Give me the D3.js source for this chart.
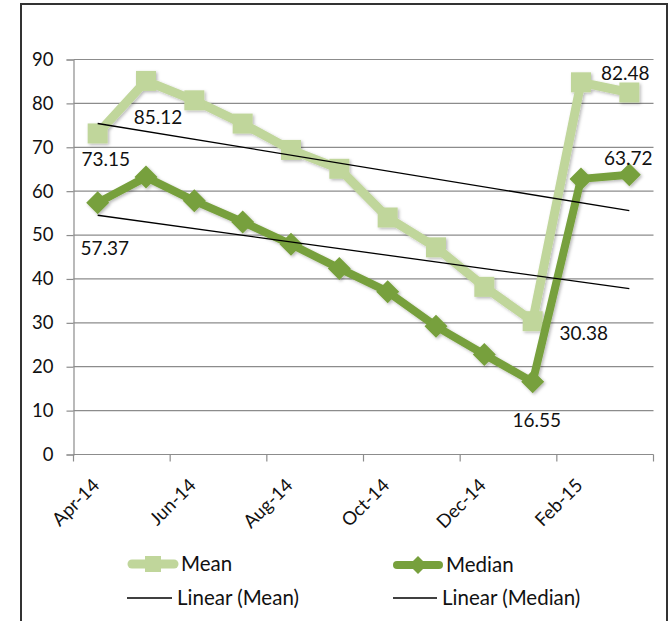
<!DOCTYPE html>
<html>
<head>
<meta charset="utf-8">
<script src="https://cdn.jsdelivr.net/npm/d3@7"></script>
<style>
  html, body { margin: 0; padding: 0; background: #fff; }
  svg { display: block; font-family: Lato, "Open Sans", sans-serif; }
</style>
</head>
<body>
<svg id="chart" width="670" height="621"></svg>
<script>
// Monthly categories and the two series
const months = ["Apr-14", "May-14", "Jun-14", "Jul-14", "Aug-14", "Sep-14",
                "Oct-14", "Nov-14", "Dec-14", "Jan-15", "Feb-15", "Mar-15"];
const meanValues   = [73.15, 85.12, 80.7, 75.4, 69.4, 65.1, 54.0, 47.2, 38.2, 30.38, 84.8, 82.48];
const medianValues = [57.37, 63.2, 57.8, 53.0, 47.9, 42.4, 37.1, 29.2, 22.8, 16.55, 62.8, 63.72];
const yTicks = [0, 10, 20, 30, 40, 50, 60, 70, 80, 90];
const xTickLabels = ["Apr-14", "Jun-14", "Aug-14", "Oct-14", "Dec-14", "Feb-15"];
// Values that carry a data label
const meanLabelled   = ["Apr-14", "May-14", "Jan-15", "Mar-15"];
const medianLabelled = ["Apr-14", "Jan-15", "Mar-15"];

const meanColor = "#c0d69b";
const medianColor = "#77a03c";
const gridColor = "#8c8c8c";

const svg = d3.select("#chart");

const defs = svg.append("defs");
const shadow = defs.append("filter").attr("id", "soft").attr("x", "-30%").attr("y", "-30%")
  .attr("width", "160%").attr("height", "160%");
shadow.append("feDropShadow").attr("dx", 1.5).attr("dy", 1.5)
  .attr("stdDeviation", 1.4).attr("flood-color", "#000").attr("flood-opacity", 0.28);

// Outer frame
svg.append("rect").attr("x", 21).attr("y", 4).attr("width", 646).attr("height", 640)
  .attr("fill", "#fff").attr("stroke", "#333").attr("stroke-width", 2);

const plotLeft = 73.5, plotRight = 653.5, plotTop = 59.5, plotBottom = 454.5;

const x = d3.scaleBand().domain(months).range([plotLeft, plotRight]).padding(0);
const y = d3.scaleLinear().domain([0, 90]).range([plotBottom, plotTop]);
const cx = m => x(m) + x.bandwidth() / 2;

// Horizontal gridlines
svg.append("g").selectAll("line").data(yTicks.filter(t => t > 0)).join("line")
  .attr("x1", plotLeft).attr("x2", plotRight)
  .attr("y1", d => y(d)).attr("y2", d => y(d))
  .attr("stroke", gridColor).attr("stroke-width", 1.2);

// Y axis
const yAxis = svg.append("g").attr("transform", `translate(${plotLeft},0)`)
  .call(d3.axisLeft(y).tickValues(yTicks).tickSize(7).tickPadding(13).tickFormat(d3.format("d")));
yAxis.select(".domain").attr("stroke", gridColor).attr("stroke-width", 1.2);
yAxis.selectAll(".tick line").attr("stroke", gridColor).attr("stroke-width", 1.2);
yAxis.selectAll("text").attr("font-family", "Lato").attr("font-size", 18.5).attr("fill", "#111");

// X axis: ticks every two months at the band boundaries
const boundaryMonths = months.filter((m, i) => i % 2 === 0);
const xAxisG = svg.append("g");
xAxisG.append("line").attr("x1", plotLeft).attr("x2", plotRight).attr("y1", plotBottom).attr("y2", plotBottom)
  .attr("stroke", gridColor).attr("stroke-width", 1.2);
const tickXs = boundaryMonths.map(m => x(m)).concat([x.range()[1]]);
xAxisG.selectAll("line.tick").data(tickXs).join("line").attr("class", "tick")
  .attr("x1", d => d).attr("x2", d => d).attr("y1", plotBottom).attr("y2", plotBottom + 7)
  .attr("stroke", gridColor).attr("stroke-width", 1.2);
xAxisG.selectAll("text").data(xTickLabels).join("text")
  .attr("transform", d => `translate(${x(d) + 27},${plotBottom + 32}) rotate(-45)`)
  .attr("text-anchor", "end")
  .attr("font-size", 18.5).attr("fill", "#111")
  .text(d => d);

// Series lines
const line = d3.line().x(d => cx(d.m)).y(d => y(d.v));
const meanData = months.map((m, i) => ({ m, v: meanValues[i] }));
const medianData = months.map((m, i) => ({ m, v: medianValues[i] }));

const series = svg.append("g").attr("filter", "url(#soft)");
series.append("path").datum(meanData).attr("d", line)
  .attr("fill", "none").attr("stroke", meanColor).attr("stroke-width", 9)
  .attr("stroke-linejoin", "round").attr("stroke-linecap", "round");
series.selectAll("rect.mk").data(meanData).join("rect").attr("class", "mk")
  .attr("x", d => cx(d.m) - 10).attr("y", d => y(d.v) - 10)
  .attr("width", 20).attr("height", 20).attr("fill", meanColor);

series.append("path").datum(medianData).attr("d", line)
  .attr("fill", "none").attr("stroke", medianColor).attr("stroke-width", 8)
  .attr("stroke-linejoin", "round").attr("stroke-linecap", "round");
const diamond = (px, py, r) => `M${px},${py - r}L${px + r},${py}L${px},${py + r}L${px - r},${py}Z`;
series.selectAll("path.mk").data(medianData).join("path").attr("class", "mk")
  .attr("d", d => diamond(cx(d.m), y(d.v), 11.5)).attr("fill", medianColor);

// Linear trendlines (least squares over month index)
function trend(values) {
  const n = values.length;
  const xs = d3.range(n);
  const mx = d3.mean(xs), my = d3.mean(values);
  const sxy = d3.sum(xs, i => (i - mx) * (values[i] - my));
  const sxx = d3.sum(xs, i => (i - mx) * (i - mx));
  const slope = sxy / sxx, icpt = my - slope * mx;
  return [{ m: months[0], v: icpt }, { m: months[n - 1], v: icpt + slope * (n - 1) }];
}
const trends = svg.append("g");
[meanValues, medianValues].forEach(vals => {
  trends.append("path").datum(trend(vals)).attr("d", line)
    .attr("fill", "none").attr("stroke", "#000").attr("stroke-width", 1.3);
});

// Data labels
const meanOffsets = { "Apr-14": [8, 33], "May-14": [12, 43], "Jan-15": [51, 19], "Mar-15": [-4, -13] };
const medianOffsets = { "Apr-14": [7, 52], "Jan-15": [4, 45], "Mar-15": [-1, -10] };
const labels = svg.append("g").attr("font-size", 19).attr("fill", "#111").attr("text-anchor", "middle");
meanData.filter(d => meanLabelled.includes(d.m)).forEach(d => {
  const o = meanOffsets[d.m];
  labels.append("text").attr("x", cx(d.m) + o[0]).attr("y", y(d.v) + o[1]).text(d.v.toFixed(2));
});
medianData.filter(d => medianLabelled.includes(d.m)).forEach(d => {
  const o = medianOffsets[d.m];
  labels.append("text").attr("x", cx(d.m) + o[0]).attr("y", y(d.v) + o[1]).text(d.v.toFixed(2));
});

// Legend
const legend = svg.append("g").attr("font-size", 20.5).attr("fill", "#111");
const legendItems = [
  { name: "Mean", kind: "mean", x1: 128, x2: 178, tx: 181, y: 564 },
  { name: "Median", kind: "median", x1: 393, x2: 443, tx: 446, y: 565 },
  { name: "Linear (Mean)", kind: "trend", x1: 127, x2: 172, tx: 177, y: 598 },
  { name: "Linear (Median)", kind: "trend", x1: 393, x2: 437, tx: 442, y: 598 }
];
legendItems.forEach(it => {
  const g = legend.append("g");
  if (it.kind === "trend") {
    g.append("line").attr("x1", it.x1).attr("x2", it.x2).attr("y1", it.y).attr("y2", it.y)
      .attr("stroke", "#000").attr("stroke-width", 1.3);
  } else {
    const c = it.kind === "mean" ? meanColor : medianColor;
    const mid = (it.x1 + it.x2) / 2;
    g.append("line").attr("x1", it.x1 + 4).attr("x2", it.x2 - 4).attr("y1", it.y).attr("y2", it.y)
      .attr("stroke", c).attr("stroke-width", it.kind === "mean" ? 9 : 8).attr("stroke-linecap", "round");
    if (it.kind === "mean") {
      g.append("rect").attr("x", mid - 8).attr("y", it.y - 8).attr("width", 16).attr("height", 16).attr("fill", c);
    } else {
      g.append("path").attr("d", diamond(mid, it.y, 9)).attr("fill", c);
    }
  }
  g.append("text").attr("x", it.tx).attr("y", it.y + 7).text(it.name);
});
</script>
</body>
</html>
